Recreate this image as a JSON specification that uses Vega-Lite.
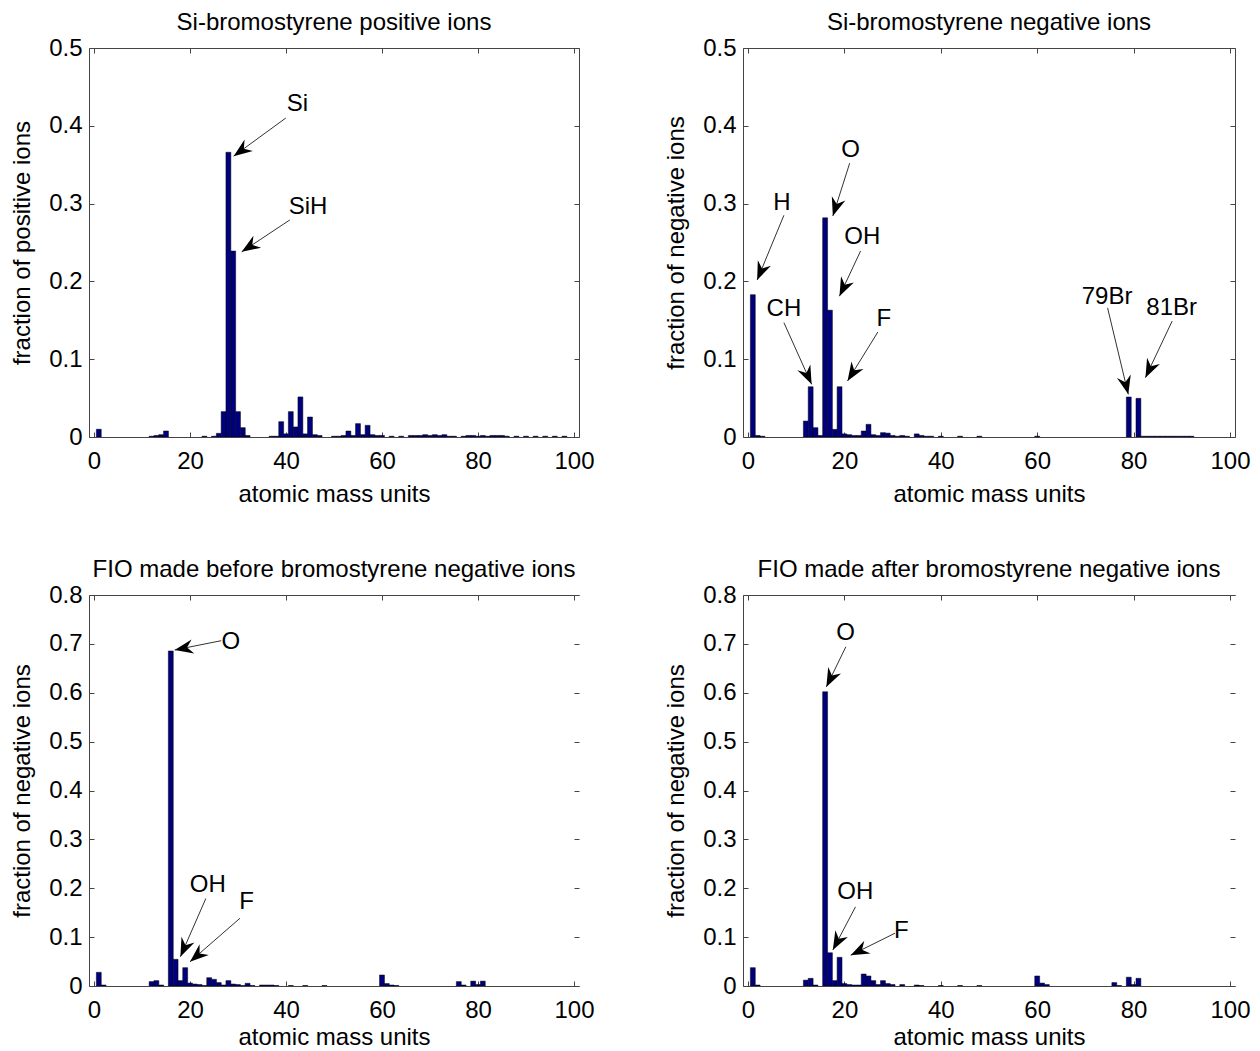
{
  "$schema": "https://vega.github.io/schema/vega-lite/v6.json",
  "autosize": {"type": "none"},
  "padding": {"left": 89, "top": 48, "right": 1171, "bottom": 1003},
  "background": "white",
  "config": {
    "view": {"stroke": null},
    "font": "Liberation Sans",
    "axis": {
      "labelFont": "Liberation Sans", "labelFontSize": 24, "labelColor": "#000",
      "titleFont": "Liberation Sans", "titleFontSize": 24, "titleFontWeight": "normal", "titleColor": "#000",
      "domainColor": "#444", "tickColor": "#444", "domainWidth": 1, "tickWidth": 1,
      "grid": false, "tickSize": -5, "labelOverlap": false, "labelFlush": false
    },
    "title": {"font": "Liberation Sans", "fontSize": 24, "fontWeight": "normal", "color": "#000", "offset": 1, "anchor": "middle", "frame": "group"}
  },
  "datasets": {
    "pos": [
      {"mass": 1, "fraction": 0.010}, {"mass": 12, "fraction": 0.001}, {"mass": 13, "fraction": 0.002}, {"mass": 14, "fraction": 0.003}, {"mass": 15, "fraction": 0.0077},
      {"mass": 23, "fraction": 0.001}, {"mass": 25, "fraction": 0.001}, {"mass": 26, "fraction": 0.0047}, {"mass": 27, "fraction": 0.0326}, {"mass": 28, "fraction": 0.366},
      {"mass": 29, "fraction": 0.239}, {"mass": 30, "fraction": 0.0326}, {"mass": 31, "fraction": 0.012}, {"mass": 32, "fraction": 0.002}, {"mass": 37, "fraction": 0.001},
      {"mass": 38, "fraction": 0.001}, {"mass": 39, "fraction": 0.0197}, {"mass": 40, "fraction": 0.004}, {"mass": 41, "fraction": 0.0326}, {"mass": 42, "fraction": 0.0129},
      {"mass": 43, "fraction": 0.0515}, {"mass": 44, "fraction": 0.004}, {"mass": 45, "fraction": 0.0257}, {"mass": 46, "fraction": 0.003}, {"mass": 47, "fraction": 0.002},
      {"mass": 50, "fraction": 0.001}, {"mass": 51, "fraction": 0.001}, {"mass": 52, "fraction": 0.002}, {"mass": 53, "fraction": 0.0077}, {"mass": 54, "fraction": 0.002},
      {"mass": 55, "fraction": 0.0172}, {"mass": 56, "fraction": 0.003}, {"mass": 57, "fraction": 0.015}, {"mass": 58, "fraction": 0.003}, {"mass": 59, "fraction": 0.002},
      {"mass": 60, "fraction": 0.002}, {"mass": 62, "fraction": 0.001}, {"mass": 64, "fraction": 0.001}, {"mass": 66, "fraction": 0.002}, {"mass": 67, "fraction": 0.002},
      {"mass": 68, "fraction": 0.002}, {"mass": 69, "fraction": 0.003}, {"mass": 70, "fraction": 0.002}, {"mass": 71, "fraction": 0.003}, {"mass": 72, "fraction": 0.002},
      {"mass": 73, "fraction": 0.003}, {"mass": 74, "fraction": 0.001}, {"mass": 75, "fraction": 0.001}, {"mass": 77, "fraction": 0.001}, {"mass": 78, "fraction": 0.002},
      {"mass": 79, "fraction": 0.002}, {"mass": 80, "fraction": 0.001}, {"mass": 81, "fraction": 0.002}, {"mass": 82, "fraction": 0.001}, {"mass": 83, "fraction": 0.002},
      {"mass": 84, "fraction": 0.002}, {"mass": 85, "fraction": 0.002}, {"mass": 86, "fraction": 0.001}, {"mass": 88, "fraction": 0.001}, {"mass": 90, "fraction": 0.001},
      {"mass": 92, "fraction": 0.001}, {"mass": 94, "fraction": 0.001}, {"mass": 96, "fraction": 0.001}, {"mass": 98, "fraction": 0.001}
    ],
    "neg": [
      {"mass": 1, "fraction": 0.183}, {"mass": 2, "fraction": 0.002}, {"mass": 3, "fraction": 0.001}, {"mass": 12, "fraction": 0.0205}, {"mass": 13, "fraction": 0.0646},
      {"mass": 14, "fraction": 0.012}, {"mass": 15, "fraction": 0.002}, {"mass": 16, "fraction": 0.2817}, {"mass": 17, "fraction": 0.163}, {"mass": 18, "fraction": 0.0098},
      {"mass": 19, "fraction": 0.0646}, {"mass": 20, "fraction": 0.004}, {"mass": 21, "fraction": 0.003}, {"mass": 22, "fraction": 0.002}, {"mass": 23, "fraction": 0.002},
      {"mass": 24, "fraction": 0.0077}, {"mass": 25, "fraction": 0.0163}, {"mass": 26, "fraction": 0.003}, {"mass": 27, "fraction": 0.002}, {"mass": 28, "fraction": 0.0056},
      {"mass": 29, "fraction": 0.005}, {"mass": 30, "fraction": 0.002}, {"mass": 31, "fraction": 0.001}, {"mass": 32, "fraction": 0.002}, {"mass": 33, "fraction": 0.001},
      {"mass": 35, "fraction": 0.004}, {"mass": 36, "fraction": 0.002}, {"mass": 37, "fraction": 0.001}, {"mass": 38, "fraction": 0.001}, {"mass": 40, "fraction": 0.001},
      {"mass": 44, "fraction": 0.001}, {"mass": 48, "fraction": 0.001}, {"mass": 60, "fraction": 0.001}, {"mass": 79, "fraction": 0.0514}, {"mass": 81, "fraction": 0.0497},
      {"mass": 82, "fraction": 0.001}, {"mass": 83, "fraction": 0.001}, {"mass": 84, "fraction": 0.001}, {"mass": 85, "fraction": 0.001}, {"mass": 86, "fraction": 0.001},
      {"mass": 87, "fraction": 0.001}, {"mass": 88, "fraction": 0.001}, {"mass": 89, "fraction": 0.001}, {"mass": 90, "fraction": 0.001}, {"mass": 91, "fraction": 0.001},
      {"mass": 92, "fraction": 0.001}
    ],
    "before": [
      {"mass": 1, "fraction": 0.028}, {"mass": 2, "fraction": 0.002}, {"mass": 12, "fraction": 0.009}, {"mass": 13, "fraction": 0.011}, {"mass": 14, "fraction": 0.002},
      {"mass": 16, "fraction": 0.6855}, {"mass": 17, "fraction": 0.0546}, {"mass": 18, "fraction": 0.011}, {"mass": 19, "fraction": 0.0375}, {"mass": 20, "fraction": 0.006},
      {"mass": 21, "fraction": 0.004}, {"mass": 22, "fraction": 0.003}, {"mass": 23, "fraction": 0.001}, {"mass": 24, "fraction": 0.017}, {"mass": 25, "fraction": 0.0136},
      {"mass": 26, "fraction": 0.007}, {"mass": 27, "fraction": 0.002}, {"mass": 28, "fraction": 0.011}, {"mass": 29, "fraction": 0.004}, {"mass": 30, "fraction": 0.003},
      {"mass": 31, "fraction": 0.001}, {"mass": 32, "fraction": 0.0055}, {"mass": 33, "fraction": 0.001}, {"mass": 35, "fraction": 0.002}, {"mass": 36, "fraction": 0.002},
      {"mass": 37, "fraction": 0.002}, {"mass": 38, "fraction": 0.001}, {"mass": 41, "fraction": 0.001}, {"mass": 44, "fraction": 0.001}, {"mass": 48, "fraction": 0.001},
      {"mass": 60, "fraction": 0.0225}, {"mass": 61, "fraction": 0.005}, {"mass": 62, "fraction": 0.002}, {"mass": 63, "fraction": 0.001}, {"mass": 76, "fraction": 0.009},
      {"mass": 77, "fraction": 0.002}, {"mass": 79, "fraction": 0.010}, {"mass": 80, "fraction": 0.003}, {"mass": 81, "fraction": 0.010}
    ],
    "after": [
      {"mass": 1, "fraction": 0.0375}, {"mass": 2, "fraction": 0.002}, {"mass": 12, "fraction": 0.012}, {"mass": 13, "fraction": 0.0157}, {"mass": 14, "fraction": 0.002},
      {"mass": 16, "fraction": 0.602}, {"mass": 17, "fraction": 0.068}, {"mass": 18, "fraction": 0.011}, {"mass": 19, "fraction": 0.0587}, {"mass": 20, "fraction": 0.005},
      {"mass": 21, "fraction": 0.003}, {"mass": 22, "fraction": 0.002}, {"mass": 23, "fraction": 0.002}, {"mass": 24, "fraction": 0.0245}, {"mass": 25, "fraction": 0.0205},
      {"mass": 26, "fraction": 0.011}, {"mass": 27, "fraction": 0.003}, {"mass": 28, "fraction": 0.011}, {"mass": 29, "fraction": 0.005}, {"mass": 30, "fraction": 0.003},
      {"mass": 32, "fraction": 0.003}, {"mass": 35, "fraction": 0.002}, {"mass": 36, "fraction": 0.001}, {"mass": 40, "fraction": 0.001}, {"mass": 44, "fraction": 0.001},
      {"mass": 48, "fraction": 0.001}, {"mass": 60, "fraction": 0.0205}, {"mass": 61, "fraction": 0.006}, {"mass": 62, "fraction": 0.003}, {"mass": 76, "fraction": 0.007},
      {"mass": 77, "fraction": 0.001}, {"mass": 79, "fraction": 0.018}, {"mass": 80, "fraction": 0.003}, {"mass": 81, "fraction": 0.0157}
    ],
    "pos_ann": [
      {"label": "Si", "lx": 42.4, "ly": 0.428, "sx": 39.96, "sy": 0.41, "tx": 29.08, "ty": 0.361},
      {"label": "SiH", "lx": 44.6, "ly": 0.296, "sx": 40.8, "sy": 0.279, "tx": 30.77, "ty": 0.238}
    ],
    "neg_ann": [
      {"label": "H", "lx": 7.05, "ly": 0.301, "sx": 7.45, "sy": 0.285, "tx": 1.9, "ty": 0.2017},
      {"label": "O", "lx": 21.3, "ly": 0.369, "sx": 21.1, "sy": 0.352, "tx": 17.6, "ty": 0.284},
      {"label": "OH", "lx": 23.7, "ly": 0.2575, "sx": 23.35, "sy": 0.239, "tx": 18.97, "ty": 0.181},
      {"label": "CH", "lx": 7.45, "ly": 0.164, "sx": 7.45, "sy": 0.147, "tx": 13.2, "ty": 0.0677},
      {"label": "F", "lx": 28.2, "ly": 0.152, "sx": 26.95, "sy": 0.135, "tx": 20.65, "ty": 0.072},
      {"label": "79Br", "lx": 74.5, "ly": 0.18, "sx": 74.6, "sy": 0.166, "tx": 78.9, "ty": 0.0548},
      {"label": "81Br", "lx": 87.9, "ly": 0.166, "sx": 88.0, "sy": 0.149, "tx": 82.45, "ty": 0.0763}
    ],
    "before_ann": [
      {"label": "O", "lx": 28.5, "ly": 0.704, "sx": 26.5, "sy": 0.7065, "tx": 16.8, "ty": 0.6875},
      {"label": "OH", "lx": 23.7, "ly": 0.2066, "sx": 23.3, "sy": 0.179, "tx": 18.0, "ty": 0.06},
      {"label": "F", "lx": 31.8, "ly": 0.172, "sx": 30.4, "sy": 0.1385, "tx": 20.0, "ty": 0.0497}
    ],
    "after_ann": [
      {"label": "O", "lx": 20.25, "ly": 0.722, "sx": 20.3, "sy": 0.694, "tx": 16.25, "ty": 0.612},
      {"label": "OH", "lx": 22.25, "ly": 0.192, "sx": 22.3, "sy": 0.162, "tx": 17.6, "ty": 0.0737},
      {"label": "F", "lx": 31.8, "ly": 0.1125, "sx": 30.5, "sy": 0.108, "tx": 21.3, "ty": 0.063}
    ]
  },
  "columns": 2,
  "bounds": "flush",
  "spacing": {"row": 158, "column": 164},
  "concat": [
    {
      "width": 490, "height": 389,
      "title": "Si-bromostyrene positive ions",
      "layer": [
        {
          "data": {"name": "pos"},
          "mark": {"type": "bar", "width": 4.9, "fill": "#00007f", "stroke": "#000", "strokeWidth": 0.5, "clip": true},
          "encoding": {
            "x": {"field": "mass", "type": "quantitative", "scale": {"domain": [0, 100], "nice": false}, "axis": {"orient": "bottom", "values": [0, 20, 40, 60, 80, 100], "title": "atomic mass units", "labelPadding": 17.5, "titlePadding": 9}},
            "y": {"field": "fraction", "type": "quantitative", "scale": {"domain": [0, 0.5], "nice": false, "zero": true}, "axis": {"orient": "left", "values": [0, 0.1, 0.2, 0.3, 0.4, 0.5], "format": "~g", "title": "fraction of positive ions", "labelPadding": 12, "titlePadding": 14}}
          }
        },
        {
          "data": {"name": "pos_ann"},
          "mark": {"type": "rule", "color": "#333", "strokeWidth": 1},
          "encoding": {
            "x": {"field": "sx", "type": "quantitative", "scale": {"domain": [0, 100], "nice": false}, "axis": {"orient": "top", "values": [0, 20, 40, 60, 80, 100], "labels": false, "title": null}},
            "y": {"field": "sy", "type": "quantitative", "scale": {"domain": [0, 0.5], "nice": false}, "axis": {"orient": "right", "values": [0, 0.1, 0.2, 0.3, 0.4, 0.5], "labels": false, "title": null}},
            "x2": {"field": "tx"}, "y2": {"field": "ty"}
          }
        },
        {
          "data": {"name": "pos_ann"},
          "transform": [{"calculate": "atan2((datum.tx - datum.sx) * 4.9, (datum.ty - datum.sy) * 778) * 180 / PI", "as": "angle"}],
          "mark": {"type": "point", "shape": "M0,0 L-0.65,1.7 L0,1.15 L0.65,1.7 Z", "filled": true, "color": "#000", "opacity": 1, "size": 480, "strokeWidth": 0},
          "encoding": {
            "x": {"field": "tx", "type": "quantitative", "scale": {"domain": [0, 100], "nice": false}, "axis": null},
            "y": {"field": "ty", "type": "quantitative", "scale": {"domain": [0, 0.5], "nice": false}, "axis": null},
            "angle": {"field": "angle", "type": "quantitative", "scale": null}
          }
        },
        {
          "data": {"name": "pos_ann"},
          "mark": {"type": "text", "font": "Liberation Sans", "fontSize": 24, "color": "#000", "align": "center", "baseline": "middle"},
          "encoding": {
            "x": {"field": "lx", "type": "quantitative", "scale": {"domain": [0, 100], "nice": false}, "axis": null},
            "y": {"field": "ly", "type": "quantitative", "scale": {"domain": [0, 0.5], "nice": false}, "axis": null},
            "text": {"field": "label"}
          }
        }
      ],
      "resolve": {"axis": {"x": "independent", "y": "independent"}}
    },
    {
      "width": 492, "height": 389,
      "title": "Si-bromostyrene negative ions",
      "layer": [
        {
          "data": {"name": "neg"},
          "mark": {"type": "bar", "width": 4.9, "fill": "#00007f", "stroke": "#000", "strokeWidth": 0.5, "clip": true},
          "encoding": {
            "x": {"field": "mass", "type": "quantitative", "scale": {"domain": [0, 100], "nice": false}, "axis": {"orient": "bottom", "values": [0, 20, 40, 60, 80, 100], "title": "atomic mass units", "labelPadding": 17.5, "titlePadding": 9}},
            "y": {"field": "fraction", "type": "quantitative", "scale": {"domain": [0, 0.5], "nice": false, "zero": true}, "axis": {"orient": "left", "values": [0, 0.1, 0.2, 0.3, 0.4, 0.5], "format": "~g", "title": "fraction of negative ions", "labelPadding": 12, "titlePadding": 14}}
          }
        },
        {
          "data": {"name": "neg_ann"},
          "mark": {"type": "rule", "color": "#333", "strokeWidth": 1},
          "encoding": {
            "x": {"field": "sx", "type": "quantitative", "scale": {"domain": [0, 100], "nice": false}, "axis": {"orient": "top", "values": [0, 20, 40, 60, 80, 100], "labels": false, "title": null}},
            "y": {"field": "sy", "type": "quantitative", "scale": {"domain": [0, 0.5], "nice": false}, "axis": {"orient": "right", "values": [0, 0.1, 0.2, 0.3, 0.4, 0.5], "labels": false, "title": null}},
            "x2": {"field": "tx"}, "y2": {"field": "ty"}
          }
        },
        {
          "data": {"name": "neg_ann"},
          "transform": [{"calculate": "atan2((datum.tx - datum.sx) * 4.92, (datum.ty - datum.sy) * 778) * 180 / PI", "as": "angle"}],
          "mark": {"type": "point", "shape": "M0,0 L-0.65,1.7 L0,1.15 L0.65,1.7 Z", "filled": true, "color": "#000", "opacity": 1, "size": 480, "strokeWidth": 0},
          "encoding": {
            "x": {"field": "tx", "type": "quantitative", "scale": {"domain": [0, 100], "nice": false}, "axis": null},
            "y": {"field": "ty", "type": "quantitative", "scale": {"domain": [0, 0.5], "nice": false}, "axis": null},
            "angle": {"field": "angle", "type": "quantitative", "scale": null}
          }
        },
        {
          "data": {"name": "neg_ann"},
          "mark": {"type": "text", "font": "Liberation Sans", "fontSize": 24, "color": "#000", "align": "center", "baseline": "middle"},
          "encoding": {
            "x": {"field": "lx", "type": "quantitative", "scale": {"domain": [0, 100], "nice": false}, "axis": null},
            "y": {"field": "ly", "type": "quantitative", "scale": {"domain": [0, 0.5], "nice": false}, "axis": null},
            "text": {"field": "label"}
          }
        }
      ],
      "resolve": {"axis": {"x": "independent", "y": "independent"}}
    },
    {
      "width": 490, "height": 391,
      "title": "FIO made before bromostyrene negative ions",
      "layer": [
        {
          "data": {"name": "before"},
          "mark": {"type": "bar", "width": 4.9, "fill": "#00007f", "stroke": "#000", "strokeWidth": 0.5, "clip": true},
          "encoding": {
            "x": {"field": "mass", "type": "quantitative", "scale": {"domain": [0, 100], "nice": false}, "axis": {"orient": "bottom", "values": [0, 20, 40, 60, 80, 100], "title": "atomic mass units", "labelPadding": 17.5, "titlePadding": 3}},
            "y": {"field": "fraction", "type": "quantitative", "scale": {"domain": [0, 0.8], "nice": false, "zero": true}, "axis": {"orient": "left", "values": [0, 0.1, 0.2, 0.3, 0.4, 0.5, 0.6, 0.7, 0.8], "format": "~g", "title": "fraction of negative ions", "labelPadding": 12, "titlePadding": 14}}
          }
        },
        {
          "data": {"name": "before_ann"},
          "mark": {"type": "rule", "color": "#333", "strokeWidth": 1},
          "encoding": {
            "x": {"field": "sx", "type": "quantitative", "scale": {"domain": [0, 100], "nice": false}, "axis": {"orient": "top", "values": [0, 20, 40, 60, 80, 100], "labels": false, "title": null}},
            "y": {"field": "sy", "type": "quantitative", "scale": {"domain": [0, 0.8], "nice": false}, "axis": {"orient": "right", "values": [0, 0.1, 0.2, 0.3, 0.4, 0.5, 0.6, 0.7, 0.8], "labels": false, "title": null, "domain": false}},
            "x2": {"field": "tx"}, "y2": {"field": "ty"}
          }
        },
        {
          "data": {"name": "before_ann"},
          "transform": [{"calculate": "atan2((datum.tx - datum.sx) * 4.9, (datum.ty - datum.sy) * 488.75) * 180 / PI", "as": "angle"}],
          "mark": {"type": "point", "shape": "M0,0 L-0.65,1.7 L0,1.15 L0.65,1.7 Z", "filled": true, "color": "#000", "opacity": 1, "size": 480, "strokeWidth": 0},
          "encoding": {
            "x": {"field": "tx", "type": "quantitative", "scale": {"domain": [0, 100], "nice": false}, "axis": null},
            "y": {"field": "ty", "type": "quantitative", "scale": {"domain": [0, 0.8], "nice": false}, "axis": null},
            "angle": {"field": "angle", "type": "quantitative", "scale": null}
          }
        },
        {
          "data": {"name": "before_ann"},
          "mark": {"type": "text", "font": "Liberation Sans", "fontSize": 24, "color": "#000", "align": "center", "baseline": "middle"},
          "encoding": {
            "x": {"field": "lx", "type": "quantitative", "scale": {"domain": [0, 100], "nice": false}, "axis": null},
            "y": {"field": "ly", "type": "quantitative", "scale": {"domain": [0, 0.8], "nice": false}, "axis": null},
            "text": {"field": "label"}
          }
        }
      ],
      "resolve": {"axis": {"x": "independent", "y": "independent"}}
    },
    {
      "width": 492, "height": 391,
      "title": "FIO made after bromostyrene negative ions",
      "layer": [
        {
          "data": {"name": "after"},
          "mark": {"type": "bar", "width": 4.9, "fill": "#00007f", "stroke": "#000", "strokeWidth": 0.5, "clip": true},
          "encoding": {
            "x": {"field": "mass", "type": "quantitative", "scale": {"domain": [0, 100], "nice": false}, "axis": {"orient": "bottom", "values": [0, 20, 40, 60, 80, 100], "title": "atomic mass units", "labelPadding": 17.5, "titlePadding": 3}},
            "y": {"field": "fraction", "type": "quantitative", "scale": {"domain": [0, 0.8], "nice": false, "zero": true}, "axis": {"orient": "left", "values": [0, 0.1, 0.2, 0.3, 0.4, 0.5, 0.6, 0.7, 0.8], "format": "~g", "title": "fraction of negative ions", "labelPadding": 12, "titlePadding": 14}}
          }
        },
        {
          "data": {"name": "after_ann"},
          "mark": {"type": "rule", "color": "#333", "strokeWidth": 1},
          "encoding": {
            "x": {"field": "sx", "type": "quantitative", "scale": {"domain": [0, 100], "nice": false}, "axis": {"orient": "top", "values": [0, 20, 40, 60, 80, 100], "labels": false, "title": null}},
            "y": {"field": "sy", "type": "quantitative", "scale": {"domain": [0, 0.8], "nice": false}, "axis": {"orient": "right", "values": [0, 0.1, 0.2, 0.3, 0.4, 0.5, 0.6, 0.7, 0.8], "labels": false, "title": null, "domain": false}},
            "x2": {"field": "tx"}, "y2": {"field": "ty"}
          }
        },
        {
          "data": {"name": "after_ann"},
          "transform": [{"calculate": "atan2((datum.tx - datum.sx) * 4.92, (datum.ty - datum.sy) * 488.75) * 180 / PI", "as": "angle"}],
          "mark": {"type": "point", "shape": "M0,0 L-0.65,1.7 L0,1.15 L0.65,1.7 Z", "filled": true, "color": "#000", "opacity": 1, "size": 480, "strokeWidth": 0},
          "encoding": {
            "x": {"field": "tx", "type": "quantitative", "scale": {"domain": [0, 100], "nice": false}, "axis": null},
            "y": {"field": "ty", "type": "quantitative", "scale": {"domain": [0, 0.8], "nice": false}, "axis": null},
            "angle": {"field": "angle", "type": "quantitative", "scale": null}
          }
        },
        {
          "data": {"name": "after_ann"},
          "mark": {"type": "text", "font": "Liberation Sans", "fontSize": 24, "color": "#000", "align": "center", "baseline": "middle"},
          "encoding": {
            "x": {"field": "lx", "type": "quantitative", "scale": {"domain": [0, 100], "nice": false}, "axis": null},
            "y": {"field": "ly", "type": "quantitative", "scale": {"domain": [0, 0.8], "nice": false}, "axis": null},
            "text": {"field": "label"}
          }
        }
      ],
      "resolve": {"axis": {"x": "independent", "y": "independent"}}
    }
  ]
}
